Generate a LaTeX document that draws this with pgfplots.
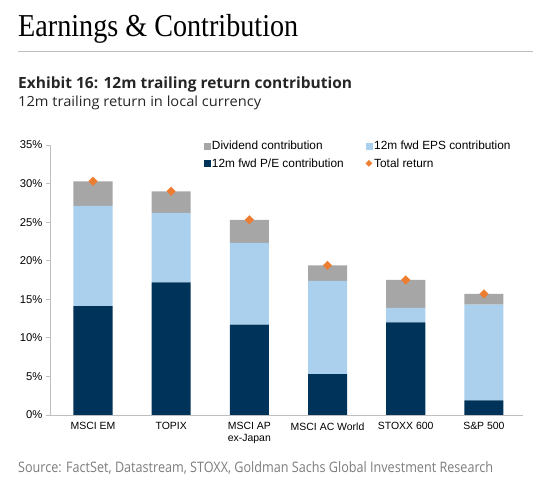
\documentclass[border=0pt]{standalone}
\usepackage{pgfplots}
\pgfplotsset{compat=1.18}
\usepackage{graphicx}
\usepackage{fontspec}
\setmainfont{Liberation Sans}
\newfontfamily\titlefont{Liberation Serif}
\newfontfamily\osfont{Open Sans}
\definecolor{navy}{RGB}{0,51,89}
\definecolor{lblue}{RGB}{170,208,238}
\definecolor{dgray}{RGB}{166,166,166}
\definecolor{orng}{RGB}{237,125,49}
\definecolor{axgray}{RGB}{191,191,191}
\definecolor{srcgray}{RGB}{125,125,125}
\pgfplotsset{
  base/.style={
    width=473bp, height=270bp, scale only axis,
    xmin=-0.55, xmax=5.5, ymin=0, ymax=35,
    at={(50bp,70bp)}, anchor=south west,
  }
}
\begin{document}
\begin{tikzpicture}[x=1bp,y=1bp]
\useasboundingbox (0,0) rectangle (533,485);
\node[anchor=base west, inner sep=0] at (18,448) {\resizebox{280bp}{\height}{\titlefont\fontsize{32}{32}\selectfont Earnings \& Contribution}};
\draw[color=axgray, line width=1bp] (18,433) -- (533,433);
\node[anchor=base west, inner sep=0, text=black!85] at (18,396) {\resizebox{334bp}{\height}{\osfont\bfseries\fontsize{15.5}{18}\selectfont Exhibit 16: 12m trailing return contribution}};
\node[anchor=base west, inner sep=0, text=black!85] at (18,378) {\resizebox{243bp}{\height}{\osfont\fontsize{14}{16}\selectfont 12m trailing return in local currency}};
\node[anchor=base west, inner sep=0, text=srcgray] at (18,12) {\resizebox{475bp}{\height}{\osfont\fontsize{14.5}{16}\selectfont Source: FactSet, Datastream, STOXX, Goldman Sachs Global Investment Research}};

\begin{axis}[base,
  ybar stacked, bar width=0.5,
  axis x line*=bottom, axis y line*=left,
  axis line style={axgray, line width=0.8bp},
  xtick={0,1,2,3,4,5},
  xticklabels={MSCI EM, TOPIX, {MSCI AP\\ex-Japan}, MSCI AC World, STOXX 600, S\&P 500},
  xticklabel style={align=center, font=\fontsize{10.5}{12}\selectfont},
  xtick style={draw=none},
  ytick={0,5,...,35},
  yticklabel={\pgfmathprintnumber{\tick}\%},
  yticklabel style={font=\fontsize{11.3}{13}\selectfont},
  /pgf/number format/assume math mode=true,
  ytick style={axgray, line width=0.8bp},
  tick align=outside, major tick length=4bp,
]
\addplot[fill=navy, draw=none] coordinates {(0,14.1) (1,17.2) (2,11.7) (3,5.3) (4,12.0) (5,1.9)};
\addplot[fill=lblue, draw=none] coordinates {(0,13.0) (1,9.0) (2,10.6) (3,12.1) (4,1.9) (5,12.4)};
\addplot[fill=dgray, draw=none] coordinates {(0,3.2) (1,2.8) (2,3.0) (3,2.0) (4,3.6) (5,1.4)};
\end{axis}

\begin{axis}[base, hide axis,
  legend columns=2,
  legend cell align=left,
  legend style={draw=none, fill=none, at={(0.318,1.029)}, anchor=north west,
    font=\fontsize{11.9}{14}\selectfont,
    /tikz/every even column/.append style={column sep=20bp},
    row sep=3bp},
]
\addplot[only marks, mark=square*, mark size=3bp, mark options={rotate=45, fill=orng, draw=orng}, forget plot]
  coordinates {(0,30.3) (1,29.0) (2,25.3) (3,19.4) (4,17.5) (5,15.7)};
\addlegendimage{legend image code/.code={\fill[dgray] (0bp,-3bp) rectangle (6bp,3bp);}}
\addlegendentry{Dividend contribution}
\addlegendimage{legend image code/.code={\fill[lblue] (0bp,-3bp) rectangle (6bp,3bp);}}
\addlegendentry{12m fwd EPS contribution}
\addlegendimage{legend image code/.code={\fill[navy] (0bp,-3bp) rectangle (6bp,3bp);}}
\addlegendentry{12m fwd P/E contribution}
\addlegendimage{legend image code/.code={\fill[orng] (3bp,-3bp) -- (6bp,0bp) -- (3bp,3bp) -- (0bp,0bp) -- cycle;}}
\addlegendentry{Total return}
\end{axis}
\end{tikzpicture}
\end{document}
